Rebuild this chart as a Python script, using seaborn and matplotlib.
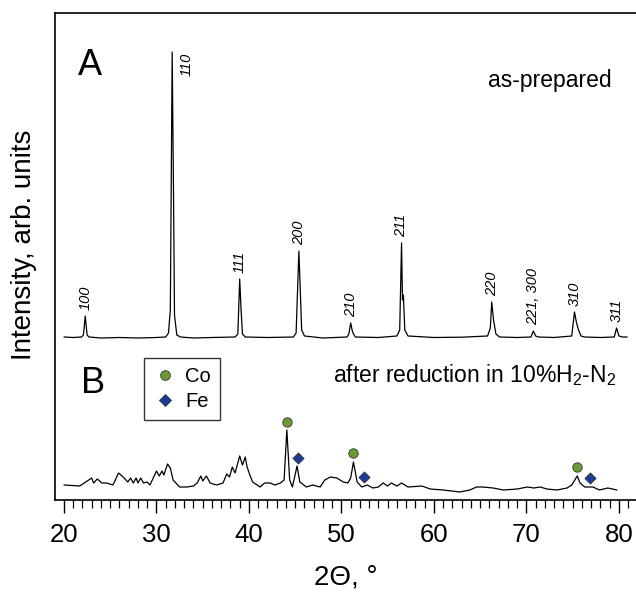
"""
XRD patterns: as-prepared sample (A) and after reduction (B).
"""

import matplotlib
matplotlib.use("Agg")
import matplotlib.pyplot as plt
import matplotlib.ticker as mticker
from matplotlib.lines import Line2D
import seaborn as sns

# -- Data (arbitrary intensity units) ---------------------------------------
two_theta_a = [20.0, 21.0, 21.9, 22.1, 22.3, 22.5, 22.7, 24.0, 26.0, 28.0, 30.0,
               31.0, 31.3, 31.5, 31.7, 31.85, 31.95, 32.2, 32.6, 34.0, 36.0,
               38.5, 38.8, 39.0, 39.15, 39.3, 39.6, 42.0, 44.8, 45.1, 45.4,
               45.55, 45.7, 46.0, 48.0, 50.6, 50.8, 51.0, 51.2, 51.5, 54.0,
               56.0, 56.3, 56.5, 56.6, 56.7, 56.85, 57.2, 60.0, 63.0, 65.8,
               66.1, 66.25, 66.45, 66.7, 67.1, 69.0, 70.5, 70.75, 71.0, 71.3,
               73.0, 74.9, 75.2, 75.4, 75.6, 75.9, 76.3, 78.0, 79.5, 79.75,
               80.0, 80.4, 80.9]
intensity_a = [163, 162.5, 163, 165, 184, 165, 163, 162, 162.5, 162, 162.5,
               163, 167, 190, 448, 300, 185, 165, 163, 162, 162.5,
               163, 166, 221, 190, 166, 163, 162.5, 163, 167, 249,
               210, 170, 164, 162, 163, 166, 177, 168, 163, 162.5,
               164, 170, 257, 200, 205, 170, 164, 162.5, 162.8, 164,
               172, 198, 180, 166, 163, 162.5, 163, 169, 164, 163,
               162.5, 164, 188, 178, 171, 164, 163, 162.5, 163, 172,
               164, 163, 163]

two_theta_b = [20.0, 21.7, 23.0, 23.2, 23.6, 24.1, 24.6, 25.3, 25.9, 26.4, 26.9,
               27.2, 27.5, 27.8, 28.0, 28.3, 28.6, 29.0, 29.3, 30.0, 30.3, 30.6,
               30.8, 31.2, 31.5, 31.8, 32.5, 33.3, 34.0, 34.4, 34.8, 35.0, 35.4,
               35.8, 36.5, 37.2, 37.6, 37.9, 38.2, 38.5, 39.0, 39.3, 39.6, 39.8,
               40.1, 40.4, 41.2, 41.7, 42.3, 42.8, 43.4, 43.8, 44.1, 44.4, 44.7,
               45.2, 45.5, 46.2, 46.9, 47.7, 48.2, 48.8, 49.5, 50.2, 50.7, 51.0,
               51.3, 51.7, 52.2, 52.8, 53.4, 54.0, 54.5, 55.0, 55.4, 56.0, 56.5,
               57.2, 58.7, 59.6, 61.0, 62.8, 63.9, 64.6, 65.3, 66.4, 67.5, 69.0,
               70.1, 70.8, 71.5, 72.2, 73.3, 74.4, 74.9, 75.5, 75.8, 76.3, 77.2,
               77.9, 78.8, 79.8]
intensity_b = [15, 14, 22, 17, 21, 17, 17, 15, 27, 23, 18,
               22, 17, 22, 17, 22, 17, 18, 15, 29, 24, 29,
               25, 36, 32, 20, 13, 13, 14, 17, 24, 19, 24,
               17, 15, 17, 26, 23, 33, 27, 44, 35, 43, 33,
               25, 18, 13, 17, 17, 15, 17, 20, 70, 20, 13,
               34, 18, 13, 15, 13, 20, 23, 22, 18, 17, 22,
               38, 18, 13, 15, 12, 13, 17, 14, 17, 14, 17,
               13, 14, 11, 10, 8, 10, 13, 13, 12, 10, 11,
               13, 12, 13, 11, 10, 12, 15, 24, 17, 13, 13,
               10, 12, 10]

hkl_labels = ["100", "110", "111", "200", "210", "211", "220", "221, 300", "310", "311"]
hkl_pos = [22.3, 31.7, 39.0, 45.4, 51.0, 56.5, 66.25, 70.75, 75.2, 79.75]
hkl_height = [184, 448, 221, 249, 177, 257, 198, 169, 188, 172]

co_pos = [44.1, 51.3, 75.5]
co_height = [78, 47, 33]
fe_pos = [45.3, 52.4, 76.9]
fe_height = [42, 23, 22]

CO_COLOR = "#6b9b37"
FE_COLOR = "#1b3d98"

# -- Style ------------------------------------------------------------------
sns.set_style("ticks")
plt.rcParams["font.family"] = ["Liberation Sans", "DejaVu Sans"]
plt.rcParams["mathtext.fontset"] = "custom"
plt.rcParams["mathtext.rm"] = "Liberation Sans"
plt.rcParams["mathtext.it"] = "Liberation Sans:italic"
plt.rcParams["text.color"] = "black"
plt.rcParams["axes.labelcolor"] = "black"
plt.rcParams["xtick.color"] = "black"
plt.rcParams["xtick.labelcolor"] = "black"

fig = plt.figure(figsize=(6.36, 5.92), dpi=100)
ax = fig.add_axes([55 / 636, 92 / 592, 581 / 636, 487 / 592])

sns.lineplot(x=two_theta_a, y=intensity_a, ax=ax, color="black", lw=0.9,
             estimator=None, sort=False)
sns.lineplot(x=two_theta_b, y=intensity_b, ax=ax, color="black", lw=0.9,
             estimator=None, sort=False)
sns.scatterplot(x=co_pos, y=co_height, ax=ax, marker="o", s=46,
                color=CO_COLOR, edgecolor="#333333", linewidth=0.6, zorder=5)
sns.scatterplot(x=fe_pos, y=fe_height, ax=ax, marker="D", s=32,
                color=FE_COLOR, edgecolor="#333333", linewidth=0.6, zorder=5)

# hkl labels above pattern A
for lab, x, h in zip(hkl_labels, hkl_pos, hkl_height):
    if lab == "110":
        ax.annotate(lab, (x, h), xytext=(14, -1), textcoords="offset pixels",
                    rotation=90, ha="center", va="top", fontsize=10.5, style="italic")
    else:
        ax.annotate(lab, (x, h), xytext=(0, 6), textcoords="offset pixels",
                    rotation=90, ha="center", va="bottom", fontsize=10.5, style="italic")

ax.text(21.5, 425, "A", fontsize=26, ha="left", va="baseline")
ax.text(65.8, 413, "as-prepared", fontsize=16.5, ha="left", va="baseline")
ax.text(21.8, 107, "B", fontsize=26, ha="left", va="baseline")
ax.text(49.1, 118, r"after reduction in 10%H$_2$-N$_2$", fontsize=16.5,
        ha="left", va="baseline")

handles = [
    Line2D([], [], marker="o", ls="none", color=CO_COLOR, markeredgecolor="#333333",
           markeredgewidth=0.6, markersize=7),
    Line2D([], [], marker="D", ls="none", color=FE_COLOR, markeredgecolor="#333333",
           markeredgewidth=0.6, markersize=6),
]
leg = ax.legend(handles, ["Co", "Fe"], loc="upper left", bbox_to_anchor=(0.153, 0.292),
                fontsize=14.5, frameon=True, fancybox=False, edgecolor="black",
                handletextpad=0.4, handlelength=1.2, borderpad=0.45, labelspacing=0.3,
                borderaxespad=0)
leg.get_frame().set_linewidth(1.0)

# -- Axes ---------------------------------------------------------------------
ax.set_xlim(19.03, 81.85)
ax.set_ylim(0, 487)
ax.xaxis.set_major_locator(mticker.MultipleLocator(10))
ax.xaxis.set_minor_locator(mticker.MultipleLocator(1))
ax.set_yticks([])
ax.tick_params(axis="x", which="major", direction="out", length=9.5, width=1.0,
               labelsize=18.5, pad=7, color="black")
ax.tick_params(axis="x", which="minor", direction="out", length=6, width=0.9,
               color="black")
for side in ["left", "top", "bottom"]:
    ax.spines[side].set_color("black")
    ax.spines[side].set_linewidth(1.2)
ax.spines["right"].set_visible(False)

ax.set_xlabel("2Θ, °", fontsize=20, labelpad=13)
ax.set_ylabel("")
fig.text(24 / 636, 1 - 245 / 592, "Intensity, arb. units", rotation=90,
         ha="center", va="center", fontsize=20)

fig.savefig("out.png", dpi=100)
